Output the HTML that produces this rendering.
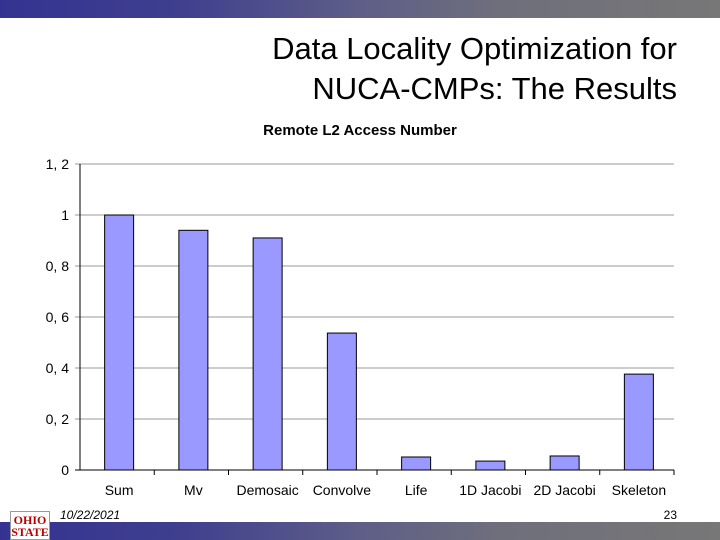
<!DOCTYPE html>
<html><head><meta charset="utf-8"><style>
body{margin:0;width:720px;height:540px;overflow:hidden;background:#fff;font-family:"Liberation Sans",sans-serif;position:relative}
.bar{position:absolute;left:0;width:720px;height:18px;background:linear-gradient(90deg,#343391 0%,#3f3f8f 25%,#5e5e88 50%,#6f6f7c 70%,#777 100%)}
</style></head><body>
<div class="bar" style="top:0"></div>
<div style="position:absolute;right:43px;top:29px;text-align:right;font-size:31px;line-height:40px;color:#000">Data Locality Optimization for<br>NUCA-CMPs: The Results</div>
<svg id="chart" width="720" height="540" style="position:absolute;left:0;top:0"></svg>
<div class="bar" style="top:522px"></div>
<div style="position:absolute;left:10px;top:511px;width:40px;height:29px;background:#fff;border:1px solid #999;box-sizing:border-box;color:#b00;font-family:'Liberation Serif',serif;font-size:12px;line-height:12px;text-align:center;font-weight:bold;padding-top:2px">OHIO<br>STATE</div>
<div style="position:absolute;left:60px;top:508px;font-size:12px;font-style:italic;color:#000">10/22/2021</div>
<div style="position:absolute;right:43px;top:508px;font-size:12px;color:#000">23</div>
<script>
const categories=["Sum","Mv","Demosaic","Convolve","Life","1D Jacobi","2D Jacobi","Skeleton"];
const values=[1.0,0.94,0.91,0.537,0.051,0.035,0.055,0.376];
const yTicks=[0,0.2,0.4,0.6,0.8,1,1.2];
const yTickLabels=["0","0, 2","0, 4","0, 6","0, 8","1","1, 2"];
const NS="http://www.w3.org/2000/svg";
const svg=document.getElementById('chart');
const x0=80,x1=674,yBase=470,yTop=164,yMax=1.2;
const y=v=>yBase-(v/yMax)*(yBase-yTop);
const bw=(x1-x0)/categories.length;
function mk(t,a){const e=document.createElementNS(NS,t);for(const k in a)e.setAttribute(k,a[k]);svg.appendChild(e);return e;}
const title=mk('text',{x:360,y:135,'text-anchor':'middle','font-size':15,'font-weight':'bold','font-family':'Liberation Sans, sans-serif'});
title.textContent="Remote L2 Access Number";


yTicks.forEach((t,i)=>{
  const g=mk('line',{x1:x0-5,x2:x1,y1:y(t),y2:y(t),stroke:i===0?'#000':'#999','stroke-width':1});
  
  
  const tx=mk('text',{x:x0-11,y:y(t)+5,'text-anchor':'end','font-size':14,'font-family':'Liberation Sans, sans-serif'});
  tx.textContent=yTickLabels[i];
  
  
});
const ax=mk('line',{x1:x0,x2:x0,y1:yTop,y2:yBase,stroke:'#000'});


categories.forEach((c,i)=>{
  const cx=x0+bw*(i+0.5)+2;
  const r=mk('rect',{x:cx-14.5,y:y(values[i]),width:29,height:yBase-y(values[i]),fill:'#9999ff',stroke:'#000','stroke-width':1});
  
  
  const tk=mk('line',{x1:x0+bw*(i+1),x2:x0+bw*(i+1),y1:yBase,y2:yBase+5,stroke:'#000'});
  
  
  const t=mk('text',{x:cx,y:495,'text-anchor':'middle','font-size':14,'font-family':'Liberation Sans, sans-serif'});
  t.textContent=c;
  
  
});
</script>
</body></html>
